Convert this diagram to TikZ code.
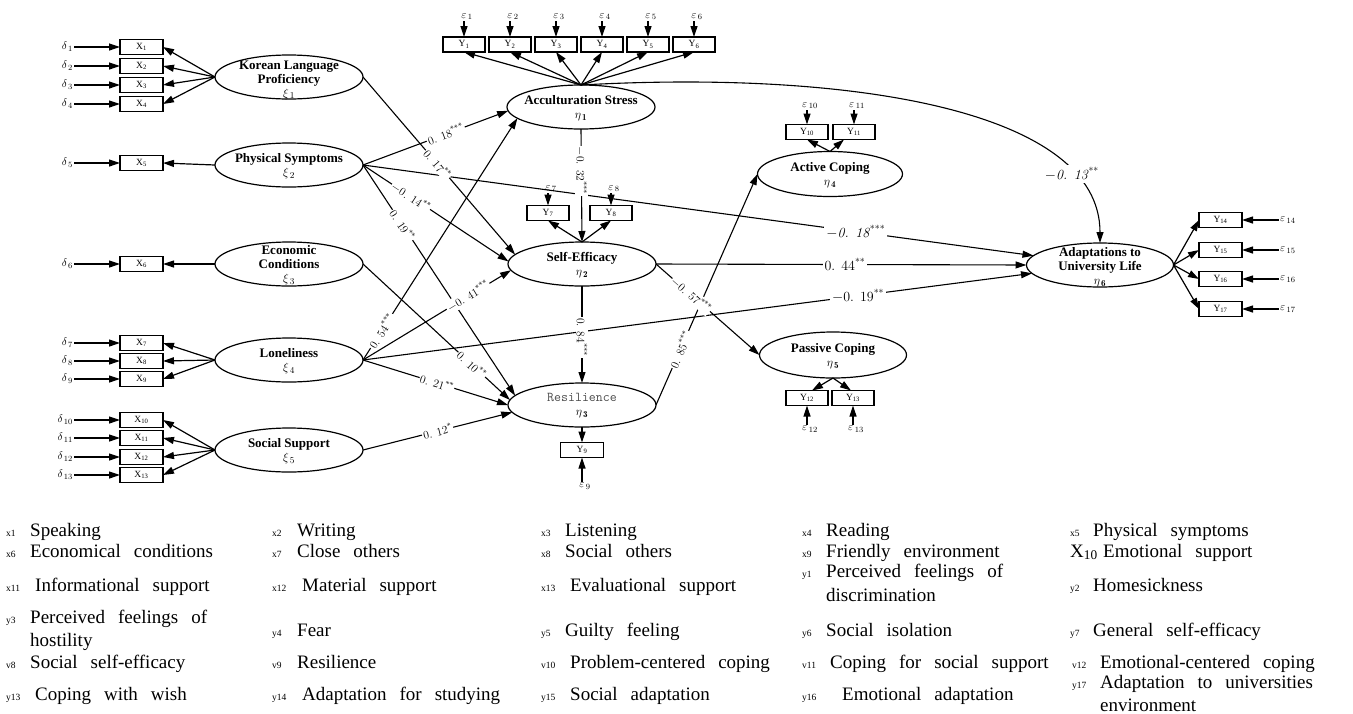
\documentclass[tikz,border=0pt]{standalone}
\usepackage{fontspec}
\usetikzlibrary{arrows.meta,shapes.geometric}
\newfontfamily\tnr{Liberation Serif}
\newcommand\lgsp{\spaceskip=13pt plus 1pt minus 1pt\relax}
\newcommand\lgitem[6]{%
  \node[lgs] (#1s) at (#2,#4) {#5};
  \node[lgt] (#1t) at (#3,#4) {\lgsp #6};}
\newcommand\lgline[4]{\node[lgt] (#1) at (#2,#3) {\lgsp #4};}
\begin{document}
\begin{tikzpicture}[x=1pt,y=-1pt,
 lat/.style={draw, ellipse, line width=1.2pt, minimum width=148pt, minimum height=44pt, inner sep=0pt, outer sep=0pt},
 lt/.style={align=center, inner sep=0pt, font=\tnr\bfseries\fontsize{13}{14}\selectfont},
 obs/.style={draw, line width=1.2pt, minimum width=43pt, minimum height=15pt, inner sep=0pt, outer sep=0pt, font=\tnr\fontsize{9.5}{9.5}\selectfont},
 ers/.style={inner sep=1pt, font=\fontsize{11}{11}\selectfont},
 ld/.style={line width=1.2pt, -{Triangle[length=11pt,width=7pt]}},
 pa/.style={line width=1.1pt, -{Triangle[length=11pt,width=7pt]}},
 cf/.style={fill=white, inner sep=1pt, font=\fontsize{11.5}{11.5}\selectfont},
 bc/.style={fill=white, inner sep=2pt, font=\fontsize{14}{14}\selectfont},
 lgs/.style={anchor=base west, inner sep=0pt, font=\tnr\fontsize{9.5}{9.5}\selectfont},
 lgt/.style={anchor=base west, inner sep=0pt, font=\tnr\fontsize{19}{19}\selectfont},
]
\useasboundingbox (0,0) rectangle (1353,713);

% ---------- latent variables ----------
\node[lat] (klp) at (289,77) {};
\node[lt] (klpt) at (289,80) {Korean Language\\Proficiency\\$\xi_{\,1}$};
\node[lat] (ps) at (289,165) {};
\node[lt] (pst) at (289,166) {Physical Symptoms\\$\xi_{\,2}$};
\node[lat] (ec) at (289,264) {};
\node[lt] (ect) at (289,265) {Economic\\Conditions\\$\xi_{\,3}$};
\node[lat] (lo) at (289,360) {};
\node[lt] (lot) at (289,361) {Loneliness\\$\xi_{\,4}$};
\node[lat] (ss) at (289,450) {};
\node[lt] (sst) at (289,451) {Social Support\\$\xi_{\,5}$};

\node[lat] (as) at (581,107) {};
\node[lt] (ast) at (581,108) {Acculturation Stress\\$\eta_{\,\mathbf{1}}$};
\node[lat] (se) at (582,264) {};
\node[lt] (set) at (582,265) {Self-Efficacy\\$\eta_{\,\mathbf{2}}$};
\node[lat] (re) at (582,405) {};
\node[lt] (ret) at (582,406) {{\ttfamily\mdseries\fontsize{13.5}{14}\selectfont\color{black!70}Resilience}\\$\eta_{\,\mathbf{3}}$};
\node[lat, minimum width=145pt, minimum height=45pt] (ac) at (830,174) {};
\node[lt] (act) at (830,175) {Active Coping\\$\eta_{\,\mathbf{4}}$};
\node[lat, minimum width=147pt, minimum height=46pt] (pc) at (833,355) {};
\node[lt] (pct) at (833,356) {Passive Coping\\$\eta_{\,\mathbf{5}}$};
\node[lat, minimum width=147pt] (ad) at (1100,265) {};
\node[lt] (adt) at (1100,267) {Adaptations to\\University Life\\$\eta_{\,\mathbf{6}}$};

% ---------- observed x ----------
\foreach \i/\yy in {1/47,2/66,3/85,4/104,5/163,6/264,7/343,8/361,9/379,10/420,11/438,12/457,13/475}{
  \node[obs] (x\i) at (141.5,\yy) {X\textsubscript{\i}};
  \node[ers, anchor=east] (d\i) at (74,\yy) {$\delta_{\,\i}$};
  \draw[ld] (d\i.east) -- (x\i.west);
}
\foreach \i in {1,2,3,4}{\draw[ld] (klp.west) -- (x\i.east);}
\draw[ld] (ps.west) -- (x5.east);
\draw[ld] (ec.west) -- (x6.east);
\foreach \i in {7,8,9}{\draw[ld] (lo.west) -- (x\i.east);}
\foreach \i in {10,11,12,13}{\draw[ld] (ss.west) -- (x\i.east);}

% ---------- observed y ----------
\foreach \i/\xx in {1/464,2/510,3/556,4/602,5/648,6/694}{
  \node[obs, minimum width=42pt] (y\i) at (\xx,44.5) {Y\textsubscript{\i}};
  \node[ers, anchor=south] (e\i) at (\xx+3,21) {$\varepsilon_{\,\i}$};
  \draw[ld] (e\i.south -| y\i.north) -- (y\i.north);
  \draw[ld] (as.north) -- (y\i.south);
}
\foreach \i/\xx in {7/548,8/611}{
  \node[obs, minimum width=42pt] (y\i) at (\xx,213) {Y\textsubscript{\i}};
  \node[ers, anchor=south] (e\i) at (\xx+3,193) {$\varepsilon_{\,\i}$};
  \draw[ld] (e\i.south -| y\i.north) -- (y\i.north);
  \draw[ld] (se.north) -- (y\i.south);
}
\node[obs] (y9) at (582,450) {Y\textsubscript{9}};
\node[ers, anchor=north] (e9) at (585,482) {$\varepsilon_{\,9}$};
\draw[ld] (re.south) -- (y9.north);
\draw[ld] (e9.north -| y9.south) -- (y9.south);
\foreach \i/\xx in {10/807,11/854}{
  \node[obs, minimum width=42pt] (y\i) at (\xx,132) {Y\textsubscript{\i}};
  \node[ers, anchor=south] (e\i) at (\xx+3,110) {$\varepsilon_{\,\i}$};
  \draw[ld] (e\i.south -| y\i.north) -- (y\i.north);
}
\draw[ld] (ac.north) -- (y10.south);
\draw[ld] (ac.north) -- ([xshift=-10pt]y11.south);
\foreach \i/\xx in {12/807,13/853}{
  \node[obs, minimum width=42pt] (y\i) at (\xx,398) {Y\textsubscript{\i}};
  \node[ers, anchor=north] (e\i) at (\xx+3,425) {$\varepsilon_{\,\i}$};
  \draw[ld] (e\i.north -| y\i.south) -- (y\i.south);
}
\draw[ld] (pc.south) -- ([xshift=5pt]y12.north);
\draw[ld] (pc.south) -- ([xshift=-2pt]y13.north);
\foreach \i/\yy in {14/220,15/250,16/279,17/309}{
  \node[obs] (y\i) at (1220.5,\yy) {Y\textsubscript{\i}};
  \node[ers, anchor=west] (e\i) at (1279,\yy) {$\varepsilon_{\,\i}$};
  \draw[ld] (e\i.west) -- (y\i.east);
  \draw[ld] (ad.east) -- (y\i.west);
}

% ---------- structural paths ----------
\draw[pa] (ps.east) -- (as.183);
\draw[pa] (lo.east) -- (as.190);
\draw[pa] (klp.east) -- (se.172);
\draw[pa] (ps.east) -- (se.178);
\draw[pa] (lo.east) -- (se.185);
\draw[pa] (ps.east) -- (re.172);
\draw[pa] (ec.east) -- (re.176);
\draw[pa] (lo.east) -- (re.180);
\draw[pa] (ss.east) -- (re.186);
\draw[pa] (as.south) -- (se.north);
\draw[pa] (se.south) -- (re.north);
\draw[pa] (se.east) -- (pc.west);
\draw[pa] (re.east) -- (ac.west);
\draw[pa] (ps.east) -- (ad.172);
\draw[pa] (se.east) -- (ad.west);
\draw[pa] (lo.east) -- (ad.187);
\draw[pa] (as.north) .. controls (850,70) and (1100,110) .. (ad.north);

% ---------- coefficients ----------
\path (ps.east) -- (as.183) node[cf, sloped, pos=.57] (c1) {0. 18\textsuperscript{***}};
\path (klp.east) -- (se.172) node[cf, sloped, pos=.49] (c2) {0. 17\textsuperscript{**}};
\path (ps.east) -- (se.178) node[cf, sloped, pos=.33] (c3) {$-$0. 14\textsuperscript{**}};
\path (ps.east) -- (re.172) node[cf, sloped, pos=.26] (c4) {0. 19\textsuperscript{**}};
\path (ec.east) -- (re.176) node[cf, sloped, pos=.74] (c5) {0. 10\textsuperscript{**}};
\path (lo.east) -- (as.190) node[cf, sloped, pos=.12] (c6) {0. 54\textsuperscript{***}};
\path (lo.east) -- (se.185) node[cf, sloped, pos=.71] (c7) {$-$0. 41\textsuperscript{***}};
\path (lo.east) -- (re.180) node[cf, sloped, pos=.51] (c8) {0. 21\textsuperscript{**}};
\path (ss.east) -- (re.186) node[cf, sloped, pos=.5] (c9) {0. 12\textsuperscript{*}};
\path (as.south) -- (se.north) node[cf, rotate=-90, pos=.37] (c10) {$-$0. 32\textsuperscript{***}};
\path (se.south) -- (re.north) node[cf, rotate=-90, pos=.53] (c11) {0. 84\textsuperscript{***}};
\path (se.east) -- (pc.west) node[cf, sloped, pos=.34] (c12) {$-$0. 57\textsuperscript{***}};
\path (re.east) -- (ac.west) node[cf, sloped, pos=.24] (c13) {0. 85\textsuperscript{***}};
\path (ps.east) -- (ad.172) node[bc, pos=.735] (c14) {$-$\textit{0. 18}\textsuperscript{***}};
\path (se.east) -- (ad.west) node[bc, pos=.51] (c15) {0. 44\textsuperscript{**}};
\path (lo.east) -- (ad.187) node[bc, pos=.74] (c16) {$-$0. 19\textsuperscript{**}};
\path (as.north) .. controls (850,70) and (1100,110) .. (ad.north) node[bc, pos=.8] (c17) {$-$\textit{0. 13}\textsuperscript{**}};

% ---------- legend ----------
\lgitem{l1}{6}{30}{536}{x1}{Speaking}
\lgitem{l2}{272}{297}{536}{x2}{Writing}
\lgitem{l3}{541}{565}{536}{x3}{Listening}
\lgitem{l4}{802}{826}{536}{x4}{Reading}
\lgitem{l5}{1070}{1093}{536}{x5}{Physical symptoms}
\lgitem{l6}{6}{30}{557}{x6}{Economical conditions}
\lgitem{l7}{272}{297}{557}{x7}{Close others}
\lgitem{l8}{541}{565}{557}{x8}{Social others}
\lgitem{l9}{802}{826}{557}{x9}{Friendly environment}
\lgitem{l10}{1070}{1103}{557}{\fontsize{19}{19}\selectfont X\textsubscript{10}}{Emotional support}
\lgitem{l11}{6}{35}{591}{x11}{Informational support}
\lgitem{l12}{272}{302}{591}{x12}{Material support}
\lgitem{l13}{541}{570}{591}{x13}{Evaluational support}
\lgitem{l14}{802}{826}{577}{y1}{Perceived feelings of}
\lgline{l14b}{826}{601}{discrimination}
\lgitem{l15}{1070}{1093}{591}{y2}{Homesickness}
\lgitem{l16}{6}{30}{623}{y3}{Perceived feelings of}
\lgline{l16b}{30}{646}{hostility}
\lgitem{l17}{272}{297}{636}{y4}{Fear}
\lgitem{l18}{541}{565}{636}{y5}{Guilty feeling}
\lgitem{l19}{802}{826}{636}{y6}{Social isolation}
\lgitem{l20}{1070}{1093}{636}{y7}{General self-efficacy}
\lgitem{l21}{6}{30}{668}{v8}{Social self-efficacy}
\lgitem{l22}{272}{297}{668}{v9}{Resilience}
\lgitem{l23}{541}{570}{668}{v10}{Problem-centered coping}
\lgitem{l24}{802}{830}{668}{v11}{Coping for social support}
\lgitem{l25}{1072}{1100}{668}{v12}{Emotional-centered coping}
\lgitem{l26}{6}{35}{700}{y13}{Coping with wish}
\lgitem{l27}{272}{302}{700}{y14}{Adaptation for studying}
\lgitem{l28}{541}{570}{700}{y15}{Social adaptation}
\lgitem{l29}{802}{842}{700}{y16}{Emotional adaptation}
\lgitem{l30}{1072}{1100}{688}{y17}{Adaptation to universities}
\lgline{l30b}{1100}{711}{environment}
\end{tikzpicture}
\end{document}
